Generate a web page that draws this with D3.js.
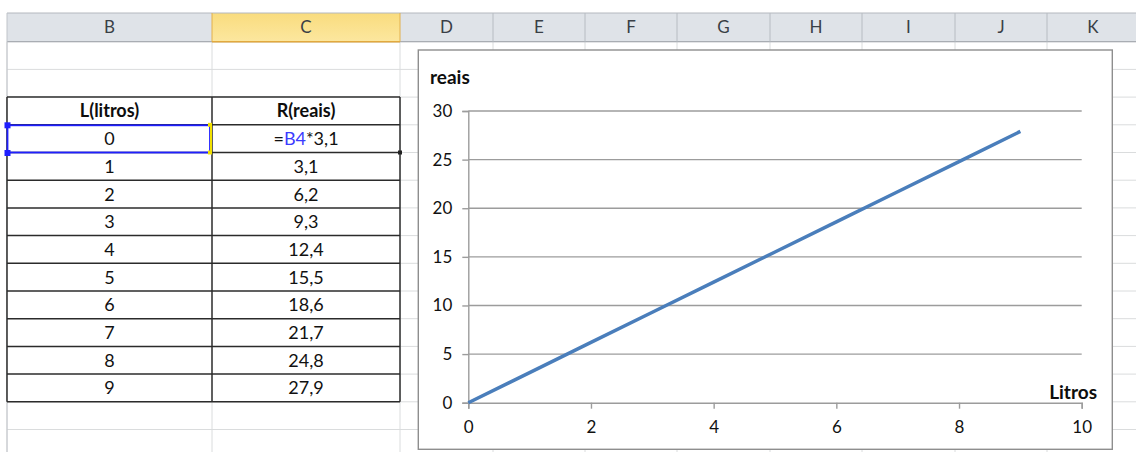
<!DOCTYPE html>
<html><head><meta charset="utf-8">
<script src="https://cdn.jsdelivr.net/npm/d3@7"></script>
<style>body{margin:0;background:#fff;overflow:hidden} svg{display:block}</style>
</head><body>
<svg id="c" width="1136" height="452"></svg>
<script>
// ---- data ----
const columnLetters = ["B","C","D","E","F","G","H","I","J","K"];
const tableHeaders = ["L(litros)","R(reais)"];
const litros = [0,1,2,3,4,5,6,7,8,9];
const reais = [0,3.1,6.2,9.3,12.4,15.5,18.6,21.7,24.8,27.9];
const formulaParts = ["=","B4","*3,1"];
const yTicks = [0,5,10,15,20,25,30];
const xTicks = [0,2,4,6,8,10];
const yTitle = "reais";
const xTitle = "Litros";

// ---- layout ----
const W = 1136, H = 452;
const FONT = "Lato, 'Open Sans', sans-serif";
const colEdges = [7,212,400,493,585,677,770,862,955,1047,1139];
const headTop = 13, headBot = 41.7, rowH = 27.7;
const rowY = k => headBot + rowH * k;
const svg = d3.select("#c");
const ptFmt = d3.formatLocale({decimal:",", thousands:".", grouping:[3], currency:["",""]}).format("~f");

// sheet gridlines
const g = svg.append("g");
const nRows = Math.ceil((H - headBot) / rowH) + 1;
g.selectAll("line.h").data(d3.range(0, nRows)).join("line")
  .attr("x1", colEdges[0]).attr("x2", W).attr("y1", k => rowY(k)).attr("y2", k => rowY(k))
  .attr("stroke", "#dadcdd").attr("stroke-width", 1);
g.selectAll("line.v").data(colEdges).join("line")
  .attr("x1", d => d).attr("x2", d => d).attr("y1", headBot).attr("y2", H)
  .attr("stroke", "#dadcdd").attr("stroke-width", 1);

// column headers
const hdr = svg.append("g");
hdr.append("rect").attr("x", colEdges[0]).attr("y", headTop).attr("width", W - colEdges[0]).attr("height", headBot - headTop)
  .attr("fill", "#dfe3e8");
const defs = svg.append("defs");
const gr = defs.append("linearGradient").attr("id","selg").attr("x1",0).attr("x2",0).attr("y1",0).attr("y2",1);
gr.append("stop").attr("offset","0%").attr("stop-color","#f9dc7e");
gr.append("stop").attr("offset","100%").attr("stop-color","#fce79f");
hdr.append("rect").attr("x", colEdges[1]).attr("y", headTop).attr("width", colEdges[2]-colEdges[1]).attr("height", headBot-headTop)
  .attr("fill", "url(#selg)");
hdr.append("line").attr("x1", colEdges[0]).attr("x2", W).attr("y1", headTop).attr("y2", headTop).attr("stroke", "#b4b8be");
hdr.append("line").attr("x1", colEdges[0]).attr("x2", W).attr("y1", headBot).attr("y2", headBot).attr("stroke", "#a9adb3").attr("stroke-width",1.3);
hdr.append("line").attr("x1", colEdges[0]).attr("x2", colEdges[0]).attr("y1", headTop).attr("y2", H).attr("stroke", "#c0c4c9");
hdr.selectAll("line.sep").data(colEdges.slice(1)).join("line")
  .attr("x1", d => d).attr("x2", d => d).attr("y1", headTop).attr("y2", headBot)
  .attr("stroke", (d,i) => (i===0||i===1) ? "#e2b04c" : "#b7bcc2");
hdr.append("line").attr("x1", colEdges[1]).attr("x2", colEdges[2]).attr("y1", headBot).attr("y2", headBot).attr("stroke", "#e2a93e").attr("stroke-width",1.5);
hdr.selectAll("text").data(columnLetters).join("text")
  .attr("x", (d,i) => (colEdges[i] + colEdges[i+1]) / 2).attr("y", (headTop + headBot) / 2)
  .attr("dy", "0.36em").attr("text-anchor", "middle")
  .attr("font-family", FONT).attr("font-size", 17).attr("fill", "#3a3f46").text(d => d);

// table
const tb = svg.append("g");
const tTop = rowY(2), tBot = rowY(13);
const TS = 18;
tb.append("rect").attr("x", colEdges[0]).attr("y", tTop).attr("width", colEdges[2]-colEdges[0]).attr("height", tBot-tTop).attr("fill", "#fff");
tb.selectAll("text.h").data(tableHeaders).join("text")
  .attr("x", (d,i) => (colEdges[i]+colEdges[i+1])/2).attr("y", (rowY(2)+rowY(3))/2).attr("dy","0.36em")
  .attr("text-anchor","middle").attr("font-family",FONT).attr("font-size",TS).attr("font-weight","bold").attr("fill","#0d0d0d").text(d=>d);
tb.selectAll("text.l").data(litros).join("text")
  .attr("x", (colEdges[0]+colEdges[1])/2).attr("y", (d,i) => (rowY(3+i)+rowY(4+i))/2).attr("dy","0.36em")
  .attr("text-anchor","middle").attr("font-family",FONT).attr("font-size",TS).attr("fill","#111").text(d=>d);
tb.selectAll("text.r").data(reais.slice(1)).join("text")
  .attr("x", (colEdges[1]+colEdges[2])/2).attr("y", (d,i) => (rowY(4+i)+rowY(5+i))/2).attr("dy","0.36em")
  .attr("text-anchor","middle").attr("font-family",FONT).attr("font-size",TS).attr("fill","#111").text(d=>ptFmt(d));
const ft = tb.append("text").attr("x", (colEdges[1]+colEdges[2])/2).attr("y", (rowY(3)+rowY(4))/2).attr("dy","0.36em")
  .attr("text-anchor","middle").attr("font-family",FONT).attr("font-size",TS).attr("fill","#111");
ft.selectAll("tspan").data(formulaParts).join("tspan").attr("fill",(d,i)=> i===1 ? "#3b3bff" : "#111").text(d=>d);
// borders
tb.selectAll("line.rb").data(d3.range(2, 14)).join("line")
  .attr("x1", colEdges[0]).attr("x2", colEdges[2]).attr("y1", k => rowY(k)).attr("y2", k => rowY(k))
  .attr("stroke", "#2b2b2b").attr("stroke-width", 1.5);
tb.selectAll("line.cb").data(colEdges.slice(0,3)).join("line")
  .attr("x1", d=>d).attr("x2", d=>d).attr("y1", tTop).attr("y2", tBot)
  .attr("stroke", "#2b2b2b").attr("stroke-width", 1.5);
// referenced-cell highlight (B4)
const sel = svg.append("g");
sel.append("rect").attr("x", colEdges[0]+0.5).attr("y", rowY(3)+0.5).attr("width", colEdges[1]-colEdges[0]-2.5).attr("height", rowH-0.5)
  .attr("fill","none").attr("stroke","#1f1fff").attr("stroke-width",1.8);
sel.append("line").attr("x1", colEdges[1]-1).attr("x2", colEdges[1]-1).attr("y1", rowY(3)).attr("y2", rowY(4))
  .attr("stroke","#f2e100").attr("stroke-width",2);
[[colEdges[0], rowY(3)],[colEdges[0], rowY(4)]].forEach(([x,y]) =>
  sel.append("rect").attr("x", x-2.5).attr("y", y-2.5).attr("width",6).attr("height",6).attr("fill","#1f1fff"));
[[colEdges[1]-2, rowY(3)],[colEdges[1]-2, rowY(4)]].forEach(([x,y]) =>
  sel.append("rect").attr("x", x-2).attr("y", y-2).attr("width",4).attr("height",4).attr("fill","#f2e100"));
sel.append("rect").attr("x", colEdges[2]-2).attr("y", rowY(4)-2).attr("width",4).attr("height",4).attr("fill","#222");

// ---- chart ----
const cx0 = 418.3, cy0 = 50, cx1 = 1112.3, cy1 = 449.3;
const ch = svg.append("g");
ch.append("rect").attr("x", cx0).attr("y", cy0).attr("width", cx1-cx0).attr("height", cy1-cy0)
  .attr("fill","#fff").attr("stroke","#8e8e8e").attr("stroke-width",1.4);
const x = d3.scaleLinear().domain([0,10]).range([468.3, 1081.7]);
const y = d3.scaleLinear().domain([0,30]).range([402.7, 111]);

ch.append("g").selectAll("line").data(yTicks.filter(v => v > 0)).join("line")
  .attr("x1", x(0)).attr("x2", x(10)).attr("y1", d => y(d)).attr("y2", d => y(d))
  .attr("stroke", "#9c9c9c").attr("stroke-width", 1.4);

const ya = ch.append("g").attr("transform", `translate(${x(0)},0)`)
  .call(d3.axisLeft(y).tickValues(yTicks).tickSize(6).tickPadding(10).tickFormat(d3.format("d")));
const xa = ch.append("g").attr("transform", `translate(0,${y(0)})`)
  .call(d3.axisBottom(x).tickValues(xTicks).tickSize(6).tickPadding(12).tickFormat(d3.format("d")));
[ya, xa].forEach(a => {
  a.select(".domain").attr("stroke","#9c9c9c").attr("stroke-width",1.4);
  a.selectAll(".tick line").attr("stroke","#9c9c9c").attr("stroke-width",1.4);
  a.selectAll(".tick text").attr("font-family",FONT).attr("font-size",17).attr("fill","#111");
});

ch.append("path").datum(litros.map((l,i) => [l, reais[i]]))
  .attr("d", d3.line().x(d => x(d[0])).y(d => y(d[1])))
  .attr("fill","none").attr("stroke","#4a7ebb").attr("stroke-width",3.5).attr("stroke-linecap","butt");

ch.append("text").attr("x", 430).attr("y", 77).attr("dy","0.36em")
  .attr("font-family",FONT).attr("font-size",19).attr("font-weight","bold").attr("fill","#0d0d0d").text(yTitle);
ch.append("text").attr("x", 1097).attr("y", 392).attr("dy","0.36em").attr("text-anchor","end")
  .attr("font-family",FONT).attr("font-size",19).attr("font-weight","bold").attr("fill","#0d0d0d").text(xTitle);
</script>
</body></html>
